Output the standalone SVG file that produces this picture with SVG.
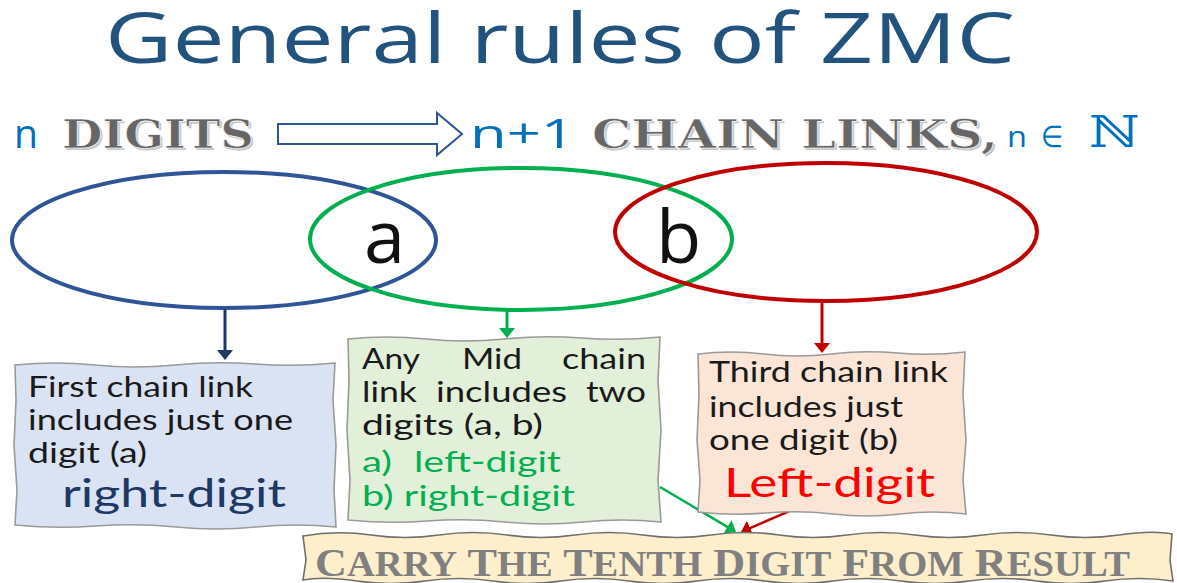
<svg xmlns="http://www.w3.org/2000/svg" width="1177" height="583" viewBox="0 0 1177 583">
  <style>
    .title { font-family: "Open Sans", "Liberation Sans", sans-serif; font-size: 70px; fill: #22527e; }
    .blue { font-family: "Open Sans", "Liberation Sans", sans-serif; fill: #0070c0; }
    .engr { font-family: "DejaVu Serif", "Liberation Serif", serif; font-weight: bold; font-size: 40px; fill: #666666; stroke: #ffffff; stroke-width: 0.6; }
    .engr-sh { font-family: "DejaVu Serif", "Liberation Serif", serif; font-weight: bold; font-size: 40px; fill: #c8c8c8; }
    .letter { font-family: "Open Sans", "Liberation Sans", sans-serif; font-size: 74px; fill: #111111; }
    .body { font-family: Lato, "Open Sans", sans-serif; font-size: 28px; fill: #1a1a1a; }
    .box { stroke: #9a9a9a; stroke-width: 1.6; }
    .banner-text { font-family: "Liberation Serif", "DejaVu Serif", serif; font-weight: bold; fill: #808080; }
  </style>
  <defs>
    <marker id="ah-navy" viewBox="0 0 10 16" refX="2" refY="8" markerWidth="10" markerHeight="16" markerUnits="userSpaceOnUse" orient="auto">
      <path d="M0,0 L10,8 L0,16 z" fill="#1f3864"/>
    </marker>
    <marker id="ah-green" viewBox="0 0 10 16" refX="2" refY="8" markerWidth="10" markerHeight="16" markerUnits="userSpaceOnUse" orient="auto">
      <path d="M0,0 L10,8 L0,16 z" fill="#00b050"/>
    </marker>
    <marker id="ah-red" viewBox="0 0 10 16" refX="2" refY="8" markerWidth="10" markerHeight="16" markerUnits="userSpaceOnUse" orient="auto">
      <path d="M0,0 L10,8 L0,16 z" fill="#c00000"/>
    </marker>
  </defs>

  <rect width="1177" height="583" fill="#ffffff"/>

  <!-- heading -->
  <text id="title" class="title" x="105" y="63" textLength="910" lengthAdjust="spacingAndGlyphs">General rules of ZMC</text>

  <!-- n digits => n+1 chain links -->
  <g id="rule-line">
    <text class="blue" x="14" y="148" font-size="40" textLength="24" lengthAdjust="spacingAndGlyphs">n</text>
    <text class="engr-sh" x="64" y="150" textLength="192" lengthAdjust="spacingAndGlyphs">DIGITS</text>
    <text class="engr" x="62" y="148" textLength="192" lengthAdjust="spacingAndGlyphs">DIGITS</text>
    <polygon points="278,124 437,124 437,113 462,134 437,155 437,144 278,144" fill="#ffffff" stroke="#2f5597" stroke-width="2"/>
    <text class="blue" x="470" y="148" font-size="40" textLength="105" lengthAdjust="spacingAndGlyphs">n+1</text>
    <text class="engr-sh" x="594" y="150" textLength="406" lengthAdjust="spacingAndGlyphs">CHAIN LINKS,</text>
    <text class="engr" x="592" y="148" textLength="406" lengthAdjust="spacingAndGlyphs">CHAIN LINKS,</text>
    <text class="blue" x="1007" y="147" font-size="30" textLength="20" lengthAdjust="spacingAndGlyphs">n</text>
    <text class="blue" x="1041" y="147" font-size="30" textLength="22" lengthAdjust="spacingAndGlyphs">∈</text>
    <text x="1089" y="147" font-family="DejaVu Serif, DejaVu Sans, serif" font-size="44" fill="#0070c0" textLength="51" lengthAdjust="spacingAndGlyphs">ℕ</text>
  </g>

  <!-- chain links -->
  <g id="link-first">
    <ellipse cx="224" cy="240" rx="212" ry="68" fill="none" stroke="#2f5597" stroke-width="4"/>
  </g>
  <g id="link-mid">
    <ellipse cx="521" cy="239" rx="211" ry="71" fill="none" stroke="#00b050" stroke-width="4"/>
  </g>
  <g id="link-third">
    <ellipse cx="826" cy="232" rx="211" ry="69" fill="none" stroke="#c00000" stroke-width="4"/>
  </g>
  <text class="letter" x="364" y="263">a</text>
  <text class="letter" x="656" y="263">b</text>

  <!-- connectors -->
  <g id="connectors">
    <line x1="225" y1="309" x2="225" y2="352" stroke="#1f3864" stroke-width="3" marker-end="url(#ah-navy)"/>
    <line x1="507" y1="311" x2="507" y2="330" stroke="#00b050" stroke-width="3" marker-end="url(#ah-green)"/>
    <line x1="822" y1="303" x2="822" y2="345" stroke="#c00000" stroke-width="3" marker-end="url(#ah-red)"/>
    <line x1="660" y1="487" x2="729.1" y2="527.9" stroke="#00b050" stroke-width="2.5" marker-end="url(#ah-green)"/>
    <line x1="820" y1="498" x2="748.3" y2="528.8" stroke="#c00000" stroke-width="2.5" marker-end="url(#ah-red)"/>
  </g>

  <!-- first chain link note -->
  <g id="note-first">
    <path class="box" fill="#dae3f3" d="M15,365 Q55,361 95,365 T175,365 T255,364 T335,363 L333,400 L336,445 L334,490 L336,527 Q296,523 256,527 T176,527 T96,526 T15,525 L17,490 L14,445 L16,400 Z"/>
    <text class="body" x="28" y="397" textLength="225" lengthAdjust="spacingAndGlyphs">First chain link</text>
    <text class="body" x="28" y="430" textLength="265" lengthAdjust="spacingAndGlyphs">includes just one</text>
    <text class="body" x="28" y="463" textLength="119" lengthAdjust="spacingAndGlyphs">digit (a)</text>
    <text class="body" x="62" y="507" textLength="224" lengthAdjust="spacingAndGlyphs" style="font-size:39px; fill:#203864">right-digit</text>
  </g>

  <!-- mid chain link note -->
  <g id="note-mid">
    <path class="box" fill="#e2f0d9" d="M348,339 Q387,335 426,339 T504,339 T582,338 T660,337 L658,380 L661,430 L658,480 L661,522 Q622,518 583,522 T505,522 T427,521 T348,520 L350,480 L347,430 L349,380 Z"/>
    <text class="body" x="362" y="369" textLength="58" lengthAdjust="spacingAndGlyphs">Any</text>
    <text class="body" x="462" y="369" textLength="60" lengthAdjust="spacingAndGlyphs">Mid</text>
    <text class="body" x="562" y="369" textLength="84" lengthAdjust="spacingAndGlyphs">chain</text>
    <text class="body" x="362" y="402" textLength="55" lengthAdjust="spacingAndGlyphs">link</text>
    <text class="body" x="436" y="402" textLength="131" lengthAdjust="spacingAndGlyphs">includes</text>
    <text class="body" x="586" y="402" textLength="60" lengthAdjust="spacingAndGlyphs">two</text>
    <text class="body" x="362" y="435" textLength="181" lengthAdjust="spacingAndGlyphs">digits (a,  b)</text>
    <text class="body" x="362" y="472" textLength="30" lengthAdjust="spacingAndGlyphs" style="fill:#00b050">a)</text>
    <text class="body" x="414" y="472" textLength="147" lengthAdjust="spacingAndGlyphs" style="fill:#00b050">left-digit</text>
    <text class="body" x="362" y="506" textLength="213" lengthAdjust="spacingAndGlyphs" style="fill:#00b050">b) right-digit</text>
  </g>

  <!-- third chain link note -->
  <g id="note-third">
    <path class="box" fill="#fbe5d6" d="M698,354 Q731,350 764,354 T831,354 T898,353 T965,352 L963,395 L966,440 L963,480 L966,514 Q933,510 900,514 T833,514 T766,513 T698,512 L700,480 L697,440 L699,395 Z"/>
    <text class="body" x="709" y="382" textLength="239" lengthAdjust="spacingAndGlyphs">Third chain link</text>
    <text class="body" x="709" y="417" textLength="194" lengthAdjust="spacingAndGlyphs">includes just</text>
    <text class="body" x="709" y="450" textLength="189" lengthAdjust="spacingAndGlyphs">one digit (b)</text>
    <text class="body" x="724" y="497" textLength="211" lengthAdjust="spacingAndGlyphs" style="font-size:40px; fill:#ff0000">Left-digit</text>
  </g>

  <!-- carry banner -->
  <g id="banner">
    <path fill="#fdefcb" stroke="#6e6e6e" stroke-width="1.6" d="M303,536 Q337,530 371,535 T439,535 T507,535 T575,535 T643,535 T711,535 T779,535 T847,535 T915,535 T983,535 T1051,535 T1119,535 T1172,534 L1170,560 L1173,581 Q1139,576 1105,581 T1037,581 T969,581 T901,581 T833,581 T765,581 T697,581 T629,581 T561,581 T493,581 T425,581 T357,581 T303,580 L306,560 Z"/>
    <text class="banner-text" x="315" y="576" font-size="40" textLength="815" lengthAdjust="spacingAndGlyphs">C<tspan font-size="35">ARRY</tspan> T<tspan font-size="35">HE</tspan> T<tspan font-size="35">ENTH</tspan> D<tspan font-size="35">IGIT</tspan> F<tspan font-size="35">ROM</tspan> R<tspan font-size="35">ESULT</tspan></text>
  </g>
</svg>
